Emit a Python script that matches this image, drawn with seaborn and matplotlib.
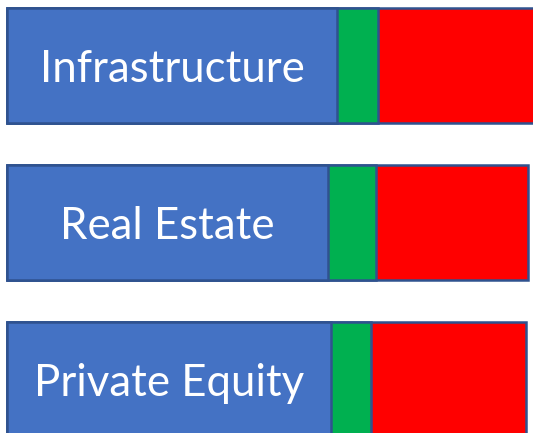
import numpy as np
import pandas as pd
import matplotlib
matplotlib.use("Agg")
import matplotlib.pyplot as plt
import seaborn as sns

# segment widths for each asset class (left to right: blue, green, red)
categories = ["Infrastructure", "Real Estate", "Private Equity"]
blue_part = [330, 321, 324]
green_part = [41, 48, 40]
red_part = [160, 152, 155]

df = pd.DataFrame({"cat": categories, "blue": blue_part,
                   "green": green_part, "red": red_part})
df["blue_green"] = df["blue"] + df["green"]
df["total"] = df["blue_green"] + df["red"]

sns.set_style("white")
plt.rcParams["font.family"] = ["Lato", "DejaVu Sans"]

fig = plt.figure(figsize=(5.33, 4.33), dpi=100)
ax = fig.add_axes([0, 0, 1, 1])

edge = "#2F528F"
# overlay cumulative bars, longest first
for col, c in [("total", "#FF0000"), ("blue_green", "#00B050"), ("blue", "#4472C4")]:
    sns.barplot(data=df, x=col, y="cat", orient="h", color=c, saturation=1,
                edgecolor=edge, linewidth=1.8, width=0.73, ax=ax)

for i, row in df.iterrows():
    ax.text(row["blue"] / 2, i + 0.025, row["cat"], color="white", fontsize=31.5,
            ha="center", va="center")

ax.set_xlim(-7, 526)
ax.set_ylim(2.34, -0.417)
ax.axis("off")

fig.savefig("out.png", dpi=100, facecolor="white")
